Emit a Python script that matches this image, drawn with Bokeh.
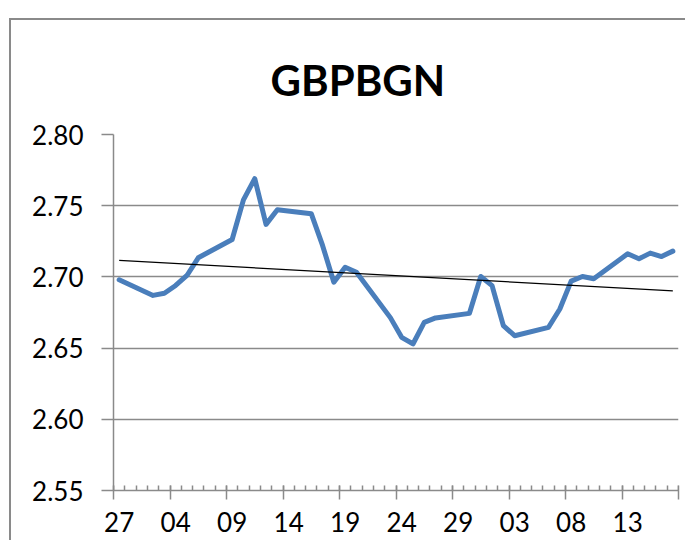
import numpy as np
import pandas as pd
from bokeh.plotting import figure
from bokeh.models import FixedTicker, LinearAxis, Range1d, PrintfTickFormatter
from bokeh.embed import file_html
from bokeh.resources import INLINE

# ---- data -------------------------------------------------------------
dates = ["2015-02-27", "2015-03-02", "2015-03-03", "2015-03-04", "2015-03-05", "2015-03-06",
         "2015-03-09", "2015-03-10", "2015-03-11", "2015-03-12", "2015-03-13",
         "2015-03-16", "2015-03-17", "2015-03-18", "2015-03-19", "2015-03-20",
         "2015-03-23", "2015-03-24", "2015-03-25", "2015-03-26", "2015-03-27",
         "2015-03-30", "2015-03-31", "2015-04-01", "2015-04-02", "2015-04-03",
         "2015-04-06", "2015-04-07", "2015-04-08", "2015-04-09", "2015-04-10",
         "2015-04-13", "2015-04-14", "2015-04-15", "2015-04-16", "2015-04-17"]
rates = [2.698, 2.687, 2.6885, 2.694, 2.701, 2.7134,
         2.7263, 2.7541, 2.769, 2.7369, 2.7472,
         2.7444, 2.7221, 2.6963, 2.7068, 2.7033,
         2.6714, 2.6576, 2.6529, 2.6681, 2.6712,
         2.6744, 2.7003, 2.6939, 2.6658, 2.6587,
         2.6646, 2.6775, 2.697, 2.7003, 2.6987,
         2.7162, 2.7127, 2.7167, 2.7143, 2.7181]
axis_start = "2015-02-27"
axis_end = "2015-04-18"
x_tick_labels = ["27", "04", "09", "14", "19", "24", "29", "03", "08", "13"]
y_ticks = [2.55, 2.60, 2.65, 2.70, 2.75, 2.80]
title_text = "GBPBGN"

# ---- derived ------------------------------------------------------------
start = pd.Timestamp(axis_start)
n_days = (pd.Timestamp(axis_end) - start).days
day_idx = np.array([(pd.Timestamp(d) - start).days for d in dates], dtype=float)
xs = day_idx + 0.5  # points sit at the middle of each day's slot
slope, intercept = np.polyfit(xs, np.array(rates), 1)
trend_x = [xs[0], xs[-1]]
trend_y = [intercept + slope * v for v in trend_x]

GRAY = "#8a8a8a"
FONT = "Lato"

p = figure(width=676, height=522, output_backend="svg", toolbar_location=None,
           x_range=Range1d(0, n_days), y_range=Range1d(y_ticks[0], y_ticks[-1]),
           min_border_left=102, min_border_right=9, min_border_top=114, min_border_bottom=52,
           title=title_text)
p.styles = {"margin-top": "18px", "margin-left": "9px",
            "border-top": "2px solid " + GRAY, "border-left": "2px solid " + GRAY}
p.outline_line_color = None
p.background_fill_color = "white"
p.border_fill_color = "white"

p.title.align = "left"
p.title.offset = 157
p.title.standoff = 60
p.title.text_font = FONT
p.title.text_font_style = "bold"
p.title.text_font_size = "42px"
p.title.text_color = "black"

# y axis
ya = p.left[0]
ya.ticker = FixedTicker(ticks=y_ticks)
ya.formatter = PrintfTickFormatter(format="%.2f")
ya.major_tick_out = 12
ya.major_tick_in = 0
ya.minor_tick_line_color = None
ya.axis_line_color = GRAY
ya.axis_line_width = 1.5
ya.major_tick_line_color = GRAY
ya.major_tick_line_width = 1.5
ya.major_label_text_font = FONT
ya.major_label_text_font_size = "26px"
ya.major_label_text_color = "black"
ya.major_label_standoff = 18

p.ygrid.ticker = FixedTicker(ticks=y_ticks)
p.ygrid.grid_line_color = GRAY
p.ygrid.grid_line_width = 1.5
p.xgrid.visible = False

# x axis: labels centred in their day slot, long ticks every 5 days
label_pos = [float(v) + 0.5 for v in range(0, 5 * len(x_tick_labels), 5)]
xa = p.below[0]
xa.ticker = FixedTicker(ticks=label_pos, minor_ticks=list(range(0, n_days + 1, 5)))
xa.major_label_overrides = {pos: lab for pos, lab in zip(label_pos, x_tick_labels)}
xa.major_tick_line_color = None
xa.major_tick_in = 0
xa.major_tick_out = 0
xa.minor_tick_in = 5
xa.minor_tick_out = 9
xa.minor_tick_line_color = GRAY
xa.minor_tick_line_width = 1.5
xa.axis_line_color = GRAY
xa.axis_line_width = 1.5
xa.major_label_standoff = 12
xa.major_label_text_font = FONT
xa.major_label_text_font_size = "26px"
xa.major_label_text_color = "black"

# x axis: short day ticks (no labels), drawn on the same baseline
xd = LinearAxis(fixed_location=y_ticks[0],
                ticker=FixedTicker(ticks=[], minor_ticks=list(range(0, n_days + 1))))
xd.axis_line_color = None
xd.major_tick_line_color = None
xd.minor_tick_in = 5
xd.minor_tick_out = 0
xd.minor_tick_line_color = GRAY
xd.minor_tick_line_width = 1.5
p.add_layout(xd, "below")

p.line(xs, rates, line_color="#4A7EBB", line_width=5, line_join="round", line_cap="round")
p.line(trend_x, trend_y, line_color="black", line_width=1.2)

open("out.html", "w").write(file_html(p, INLINE))
